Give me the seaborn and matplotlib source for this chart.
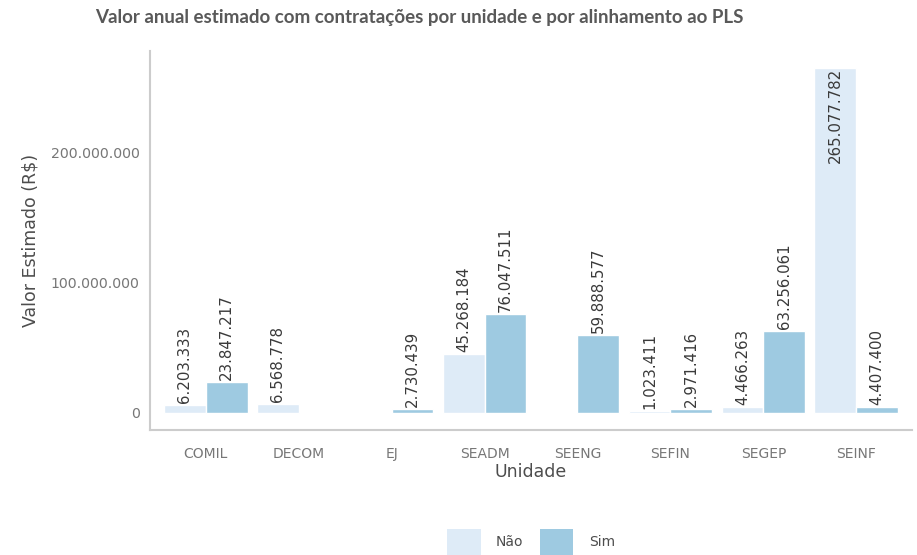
import numpy as np
import pandas as pd
import matplotlib
matplotlib.use('Agg')
import matplotlib.pyplot as plt
import seaborn as sns
from matplotlib.ticker import FuncFormatter
from matplotlib.patches import Patch

# Dados
unidades = ['COMIL', 'COMIL', 'DECOM', 'EJ', 'SEADM', 'SEADM', 'SEENG',
            'SEFIN', 'SEFIN', 'SEGEP', 'SEGEP', 'SEINF', 'SEINF']
alinhamento = ['Não', 'Sim', 'Não', 'Sim', 'Não', 'Sim', 'Sim',
               'Não', 'Sim', 'Não', 'Sim', 'Não', 'Sim']
valores = [6203333, 23847217, 6568778, 2730439, 45268184, 76047511, 59888577,
           1023411, 2971416, 4466263, 63256061, 265077782, 4407400]

ordem_unidades = ['COMIL', 'DECOM', 'EJ', 'SEADM', 'SEENG', 'SEFIN', 'SEGEP', 'SEINF']
ordem_pls = ['Não', 'Sim']
cores = {'Não': '#deebf7', 'Sim': '#9ecae1'}

df = pd.DataFrame({'Unidade': unidades, 'PLS': alinhamento, 'Valor': valores})


def fmt_br(v, pos=None):
    return f"{int(round(v)):,}".replace(",", ".")


sns.set_style('white')
plt.rcParams['font.family'] = ['DejaVu Sans']

fig = plt.figure(figsize=(9.17, 5.55), dpi=100)
ax = fig.add_axes([150 / 917, 125 / 555, 762 / 917, 379 / 555])

sns.barplot(data=df, x='Unidade', y='Valor', hue='PLS', order=ordem_unidades,
            hue_order=ordem_pls, palette=cores, width=0.9, saturation=1,
            errorbar=None, legend=False, ax=ax)

vmax = df['Valor'].max()
for cont in ax.containers:
    for bar in cont:
        h = bar.get_height()
        if np.isnan(h):
            continue
        xc = bar.get_x() + bar.get_width() / 2
        if h >= vmax:
            ax.text(xc, h, fmt_br(h), rotation=90, rotation_mode='anchor',
                    ha='right', va='center', fontsize=10.8, color='#3a3a3a')
        else:
            ax.text(xc, h + 1.5e6, fmt_br(h), rotation=90, rotation_mode='anchor',
                    ha='left', va='center', fontsize=10.8, color='#3a3a3a')

ax.set_xlim(-0.6, len(ordem_unidades) - 0.4)
ax.set_ylim(-0.05 * vmax, vmax * 1.05)
ax.set_yticks([0, 100000000, 200000000])
ax.yaxis.set_major_formatter(FuncFormatter(fmt_br))

for s in ['top', 'right']:
    ax.spines[s].set_visible(False)
for s in ['left', 'bottom']:
    ax.spines[s].set_color('#cccccc')
    ax.spines[s].set_linewidth(1.5)

ax.tick_params(axis='y', length=3.5, color='#999999', labelsize=10.2,
               labelcolor='#777777', pad=4)
ax.tick_params(axis='x', length=0, labelsize=10, labelcolor='#777777', pad=12)

ax.set_xlabel('Unidade', fontsize=12.5, color='#4d4d4d', labelpad=2)
ax.set_ylabel('Valor Estimado (R$)', fontsize=12.5, color='#4d4d4d', labelpad=8)

fig.text(95 / 917, 1 - 17 / 555, 'Valor anual estimado com contratações por unidade e por alinhamento ao PLS',
         family=['Lato', 'DejaVu Sans'], fontweight='bold', fontsize=13.5,
         color='#595959', ha='left', va='center')

handles = [Patch(facecolor=cores[k], edgecolor='none', label=k) for k in ordem_pls]
fig.legend(handles=handles, loc='center', bbox_to_anchor=(531 / 917, 13 / 555), ncol=2,
           frameon=False, fontsize=10, handlelength=2.4, handleheight=2.6,
           columnspacing=1.2, handletextpad=1.1, labelcolor='#4d4d4d',
           borderaxespad=0, borderpad=0)

fig.savefig('out.png', dpi=100)
